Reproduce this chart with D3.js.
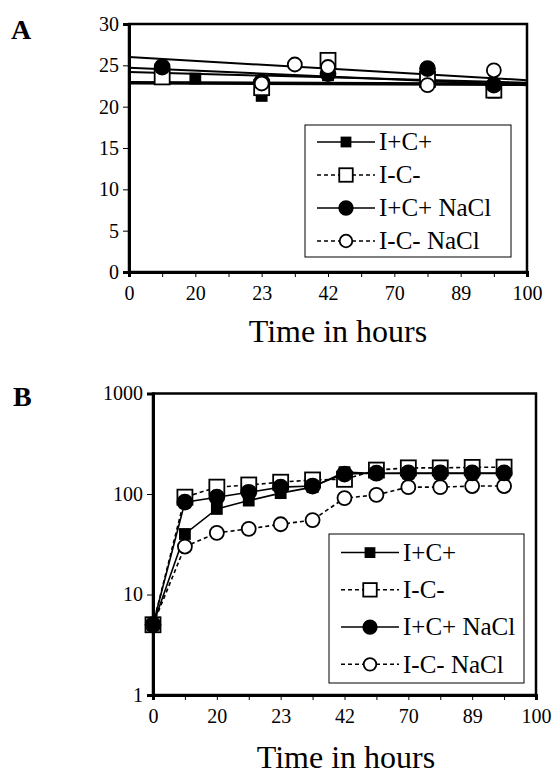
<!DOCTYPE html>
<html>
<head>
<meta charset="utf-8">
<script src="https://cdn.jsdelivr.net/npm/d3@7"></script>
<style>
  body { margin: 0; background: #fff; }
  svg text { font-family: "Liberation Serif", Tinos, "Times New Roman", Times, "DejaVu Serif", "Noto Serif", serif; fill: #000; }
</style>
</head>
<body>
<div id="chart"></div>
<script>
// category labels on the x axis (shown on every 2nd position)
const xLabels = ["0", "20", "23", "42", "70", "89", "100"];
const seriesNames = ["I+C+", "I-C-", "I+C+ NaCl", "I-C- NaCl"];

// panel A : [position, value]
const aICp      = [[1, 23.8], [2, 23.4], [4, 21.3], [6, 23.8], [9, 24.1], [11, 21.7]];
const aICm      = [[1, 23.6], [4, 22.3], [6, 25.6], [9, 23.3], [11, 22.0]];
const aICpNaCl  = [[1, 24.8], [4, 23.0], [6, 24.0], [9, 24.6], [11, 22.6]];
const aICmNaCl  = [[4, 22.8], [5, 25.1], [6, 24.8], [9, 22.6], [11, 24.4]];
// panel A trend lines: value at left edge, value at right edge
const aTrendICp     = [22.9, 22.7];
const aTrendICm     = [24.2, 22.9];
const aTrendICpNaCl = [24.7, 22.6];
const aTrendICmNaCl = [26.0, 23.2];
const aYTicks = [0, 5, 10, 15, 20, 25, 30];

// panel B
const bPos      = [0, 1, 2, 3, 4, 5, 6, 7, 8, 9, 10, 11];
const bICp      = [5, 40, 71, 86, 102, 117, 165, 160, 160, 160, 160, 160];
const bICm      = [5, 93, 117, 123, 131, 138, 140, 173, 182, 182, 184, 185];
const bICpNaCl  = [5, 83, 93, 104, 117, 120, 158, 161, 162, 162, 162, 162];
const bICmNaCl  = [5, 30, 41, 45, 50, 55, 91, 98, 117, 117, 120, 120];
const bYTicks = [1, 10, 100, 1000];

svg = d3.select("#chart")
  .append("svg")
  .attr("width", 554)
  .attr("height", 774);

styles = [
  {shape: "square", fill: "#000", size: 10, dash: null},
  {shape: "square", fill: "#fff", size: 15, dash: "4,3"},
  {shape: "circle", fill: "#000", size: 15, dash: null},
  {shape: "circle", fill: "#fff", size: 14, dash: "4,3"}
]

function marker(g, x, y, st, scale) {
  s = st.size * (scale || 1)
  if (st.shape == "square") {
    g.append("rect")
      .attr("x", x - s / 2).attr("y", y - s / 2)
      .attr("width", s).attr("height", s)
      .attr("fill", st.fill).attr("stroke", "#000").attr("stroke-width", 1.8)
  } else {
    g.append("circle")
      .attr("cx", x).attr("cy", y).attr("r", s / 2)
      .attr("fill", st.fill).attr("stroke", "#000").attr("stroke-width", 1.8)
  }
}

function frame(g, x, y, ticks, fmt, left, top, right, bottom) {
  // plot box
  g.append("rect")
    .attr("x", left).attr("y", top)
    .attr("width", right - left).attr("height", bottom - top)
    .attr("fill", "none").attr("stroke", "#000").attr("stroke-width", 2.5)

  gx = g.append("g")
    .attr("transform", `translate(0, ${bottom})`)
    .call(d3.axisBottom(x)
      .tickValues(d3.range(0, 13))
      .tickSize(5)
      .tickPadding(9)
      .tickFormat(i => i % 2 ? "" : xLabels[i / 2]))
  gx.attr("font-family", null)
  gx.selectAll("text").style("font-size", "20px")
  gx.select(".domain").attr("stroke-width", 3)

  gy = g.append("g")
    .attr("transform", `translate(${left}, 0)`)
    .call(d3.axisLeft(y).tickValues(ticks).tickSize(6).tickPadding(4).tickFormat(fmt))
  gy.attr("font-family", null)
  gy.selectAll("text").style("font-size", "20px")
  gy.select(".domain").attr("stroke-width", 3)
}

function legend(g, x0, y0, w, h, first, rowH, textSize) {
  g.append("rect")
    .attr("x", x0).attr("y", y0).attr("width", w).attr("height", h)
    .attr("fill", "#fff").attr("stroke", "#000").attr("stroke-width", 1)
  seriesNames.forEach((name, i) => {
    yy = y0 + first + rowH * i
    g.append("line")
      .attr("x1", x0 + 12).attr("x2", x0 + 70)
      .attr("y1", yy).attr("y2", yy)
      .attr("stroke", "#000").attr("stroke-width", 1.5)
      .attr("stroke-dasharray", styles[i].dash)
    marker(g, x0 + 41, yy, styles[i], 0.9)
    g.append("text")
      .attr("x", x0 + 74).attr("y", yy + textSize * 0.33)
      .style("font-size", textSize + "px")
      .text(name)
  })
}

// ---------------- panel A ----------------
gA = svg.append("g")
xA = d3.scaleLinear().domain([0, 12]).range([129, 527])
yA = d3.scaleLinear().domain([0, 30]).range([272, 24])

frame(gA, xA, yA, aYTicks, d3.format("d"), 129, 24, 527, 272)

trends = [aTrendICp, aTrendICm, aTrendICpNaCl, aTrendICmNaCl]
trends.forEach((t, i) => {
  gA.append("line")
    .attr("x1", xA(0)).attr("x2", xA(12))
    .attr("y1", yA(t[0])).attr("y2", yA(t[1]))
    .attr("stroke", "#000")
    .attr("stroke-width", i == 0 ? 3.5 : 2)
})

;[aICp, aICm, aICpNaCl, aICmNaCl].forEach((data, i) => {
  data.forEach(d => marker(gA, xA(d[0]), yA(d[1]), styles[i]))
})

legend(gA, 305, 125, 206, 132, 17, 33, 25)

svg.append("text").attr("x", 338).attr("y", 342)
  .attr("text-anchor", "middle").style("font-size", "32px").text("Time in hours")
svg.append("text").attr("x", 11).attr("y", 39)
  .style("font-size", "28px").style("font-weight", "bold").text("A")

// ---------------- panel B ----------------
gB = svg.append("g")
xB = d3.scaleLinear().domain([0, 12]).range([153, 536])
yB = d3.scaleLog().domain([1, 1000]).range([695, 393.5])

frame(gB, xB, yB, bYTicks, d3.format("d"), 153, 393.5, 536, 695)

lineB = d3.line().x((d, i) => xB(bPos[i])).y(d => yB(d))

;[bICp, bICm, bICpNaCl, bICmNaCl].forEach((data, i) => {
  gB.append("path")
    .datum(data)
    .attr("d", lineB)
    .attr("fill", "none")
    .attr("stroke", "#000")
    .attr("stroke-width", 1.6)
    .attr("stroke-dasharray", styles[i].dash)
})
;[bICm, bICmNaCl, bICpNaCl, bICp].forEach((data, j) => {
  i = [1, 3, 2, 0][j]
  data.forEach((v, k) => marker(gB, xB(bPos[k]), yB(v), styles[i]))
})

legend(gB, 329, 534, 195, 149, 18.6, 37.25, 25)

svg.append("text").attr("x", 346).attr("y", 768)
  .attr("text-anchor", "middle").style("font-size", "32px").text("Time in hours")
svg.append("text").attr("x", 13).attr("y", 406)
  .style("font-size", "28px").style("font-weight", "bold").text("B")
</script>
</body>
</html>
